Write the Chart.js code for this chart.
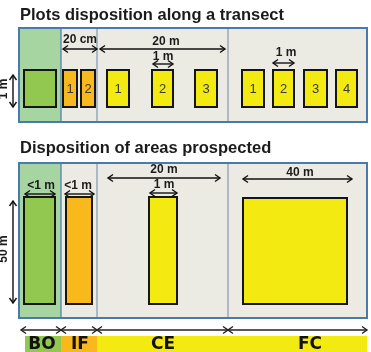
<!DOCTYPE html>
<html>
<head>
<meta charset="utf-8">
<script src="https://cdn.jsdelivr.net/npm/chart.js@4"></script>
<style>
  html, body { margin: 0; padding: 0; background: #fff; }
  canvas { display: block; }
</style>
</head>
<body>
<canvas id="plots" width="371" height="352"></canvas>
<script>
// zones along the transect and their limits (diagram units)
const zoneNames = ['BO', 'IF', 'CE', 'FC'];
const zoneEdges = [19, 61, 97, 228, 367];
const panelTop = [28, 163];
const panelBottom = [122, 318];

// top panel: plots along a transect
const transectPlotZone = [0, 1, 1, 2, 2, 2, 3, 3, 3, 3];
const transectPlotNames = ['', '1', '2', '1', '2', '3', '1', '2', '3', '4'];
const transectPlotFrom = [24, 63, 81, 107, 152, 195, 242, 273, 304, 336];
const transectPlotTo = [56, 77, 95, 129, 173, 217, 264, 294, 327, 357];
const transectPlotDepth = [70, 107];

// bottom panel: areas prospected
const areaFrom = [24, 66, 149, 243];
const areaTo = [55, 92, 177, 347];
const areaTop = [197, 197, 197, 198];
const areaBase = 304;

// horizontal dimension arrows
const dimLabels = ['20 cm', '20 m', '1 m', '1 m', '<1 m', '<1 m', '20 m', '1 m', '40 m'];
const dimFrom = [63, 100, 153, 273, 25, 65, 108, 150, 243];
const dimTo = [97, 225, 173, 294, 55, 94, 220, 177, 352];
const dimLevel = [49, 49, 64, 63, 194, 194, 178, 193, 179];
const dimTextX = [80, 166, 163, 286, 41, 78, 164, 164, 300];
const dimTextLevel = [40, 42, 57, 53, 186, 186, 170, 185, 173];

// vertical dimension arrows
const heightLabels = ['1 m', '50 m'];
const heightFrom = [75, 201];
const heightTo = [107, 303];
const heightTextLevel = [89, 249];

// bottom legend
const legendFrom = [25, 61, 97, 228];
const legendArrowFrom = [21, 61, 97, 228];
const legendTo = [61, 97, 228, 367];
const legendTextX = [42, 80, 163, 310];

const panelTitles = ['Plots disposition along a transect', 'Disposition of areas prospected'];

const zoneBg = ['#a6d5a1', '#ecebe3', '#ecebe3', '#ecebe3'];
const zoneColor = ['#92c84f', '#f9b81b', '#f3ea12', '#f3ea12'];
const frameBlue = '#4a7aab';
const dividerColor = '#a3b0c2';

const datasets = [];
const texts = [];

function rect(x0, x1, y0, y1, fillColor, lineColor, lineWidth, order) {
  datasets.push({
    data: [{x: x0, y: y0}, {x: x1, y: y0}, {x: x1, y: y1}, {x: x0, y: y1}, {x: x0, y: y0}, {x: x1, y: y0}],
    backgroundColor: fillColor || 'rgba(0,0,0,0)',
    fill: fillColor ? 'shape' : false,
    borderColor: lineColor || 'rgba(0,0,0,0)',
    borderWidth: lineColor ? lineWidth : 0,
    borderJoinStyle: 'miter',
    order: order
  });
}

function polyline(pts, color, width, order) {
  datasets.push({
    data: pts.map(p => ({x: p[0], y: p[1]})),
    fill: false,
    borderColor: color,
    borderWidth: width,
    borderJoinStyle: 'miter',
    order: order
  });
}

function arrow(x0, y0, x1, y1, color, order) {
  const h = 5, w = 3.5;
  polyline([[x0, y0], [x1, y1]], color, 1.4, order);
  if (y0 === y1) {
    polyline([[x0 + h, y0 - w], [x0, y0], [x0 + h, y0 + w]], color, 1.4, order);
    polyline([[x1 - h, y1 - w], [x1, y1], [x1 - h, y1 + w]], color, 1.4, order);
  } else {
    polyline([[x0 - w, y0 + h], [x0, y0], [x0 + w, y0 + h]], color, 1.4, order);
    polyline([[x1 - w, y1 - h], [x1, y1], [x1 + w, y1 - h]], color, 1.4, order);
  }
}

// panels
for (let p = 0; p < 2; p++) {
  zoneNames.forEach((z, i) => {
    rect(zoneEdges[i], zoneEdges[i + 1], panelTop[p], panelBottom[p], zoneBg[i], null, 0, 100);
  });
  for (let i = 2; i < zoneEdges.length - 1; i++) {
    polyline([[zoneEdges[i], panelTop[p]], [zoneEdges[i], panelBottom[p]]], dividerColor, 1, 80);
  }
  polyline([[zoneEdges[1], panelTop[p]], [zoneEdges[1], panelBottom[p]]], frameBlue, 1.2, 80);
  rect(zoneEdges[0], zoneEdges[4], panelTop[p], panelBottom[p], null, frameBlue, 2, 70);
  texts.push({text: panelTitles[p], x: 20, y: p === 0 ? 15 : 148, font: 'bold 16.5px "Liberation Sans", Arial, sans-serif', align: 'left', color: '#1b1b1b'});
}

// plots along the transect
transectPlotFrom.forEach((x0, i) => {
  rect(x0, transectPlotTo[i], transectPlotDepth[0], transectPlotDepth[1], zoneColor[transectPlotZone[i]], '#151515', 2, 50);
  if (transectPlotNames[i]) {
    texts.push({text: transectPlotNames[i], x: (x0 + transectPlotTo[i]) / 2, y: 89, font: '13px "Liberation Sans", Arial, sans-serif', color: '#3a3a3a'});
  }
});

// prospected areas
areaFrom.forEach((x0, i) => {
  rect(x0, areaTo[i], areaTop[i], areaBase, zoneColor[i], '#151515', 2, 50);
});

// dimension arrows
dimLabels.forEach((label, i) => {
  arrow(dimFrom[i], dimLevel[i], dimTo[i], dimLevel[i], '#111', 40);
  texts.push({text: label, x: dimTextX[i], y: dimTextLevel[i], font: 'bold 12px "Liberation Sans", Arial, sans-serif', color: '#1b1b1b'});
});
heightLabels.forEach((label, i) => {
  arrow(13, heightFrom[i], 13, heightTo[i], '#111', 40);
  texts.push({text: label, x: 4, y: heightTextLevel[i], rot: -Math.PI / 2, font: 'bold 12px "Liberation Sans", Arial, sans-serif', color: '#1b1b1b'});
});

// legend strip
zoneNames.forEach((z, i) => {
  rect(legendFrom[i], legendTo[i], 336, 353, zoneColor[i], null, 0, 60);
  arrow(legendArrowFrom[i], 330, legendTo[i], 330, '#222', 40);
  texts.push({text: z, x: legendTextX[i], y: 345, font: 'bold 17px "DejaVu Sans", sans-serif', color: '#111'});
});

const textPlugin = {
  id: 'diagramTexts',
  afterDatasetsDraw(chart) {
    const {ctx, scales: {x, y}} = chart;
    texts.forEach(t => {
      ctx.save();
      ctx.font = t.font;
      ctx.fillStyle = t.color;
      ctx.textAlign = t.align || 'center';
      ctx.textBaseline = 'middle';
      ctx.translate(x.getPixelForValue(t.x), y.getPixelForValue(t.y));
      if (t.rot) ctx.rotate(t.rot);
      ctx.fillText(t.text, 0, 0);
      ctx.restore();
    });
  }
};

new Chart(document.getElementById('plots'), {
  type: 'line',
  data: { datasets: datasets },
  options: {
    responsive: false,
    devicePixelRatio: 1,
    animation: false,
    events: [],
    layout: { padding: 0 },
    elements: { point: { radius: 0 }, line: { tension: 0 } },
    plugins: { legend: { display: false }, tooltip: { enabled: false } },
    scales: {
      x: { type: 'linear', min: 0, max: 371, display: false },
      y: { type: 'linear', min: 0, max: 352, reverse: true, display: false }
    }
  },
  plugins: [textPlugin]
});
</script>
</body>
</html>
